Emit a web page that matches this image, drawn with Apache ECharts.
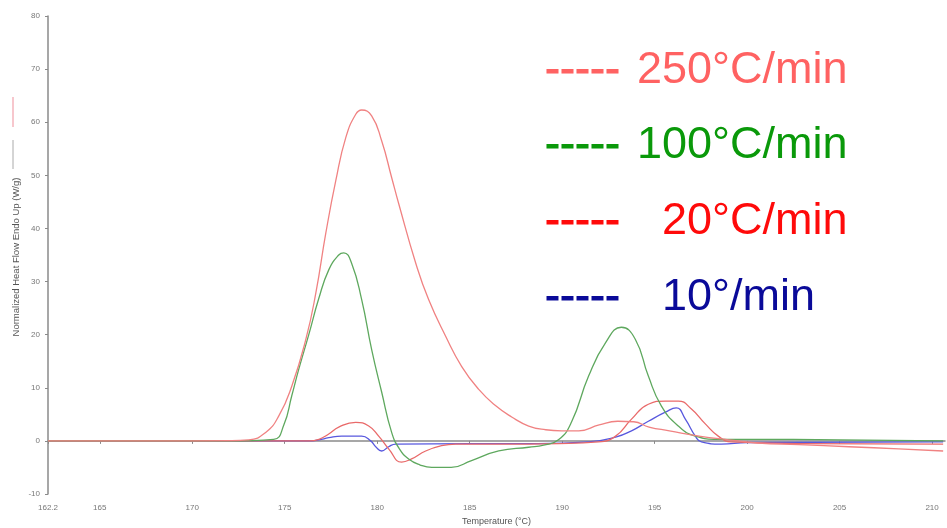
<!DOCTYPE html>
<html>
<head>
<meta charset="utf-8">
<script src="https://cdn.jsdelivr.net/npm/echarts@6/dist/echarts.min.js"></script>
<style>
html,body{margin:0;padding:0;background:#fff;}
#chart{width:947px;height:528px;}
</style>
</head>
<body>
<div id="chart"></div>
<script>
// Tick labels
const xTicks = [162.2, 165, 170, 175, 180, 185, 190, 195, 200, 205, 210];
const yTicks = [-10, 0, 10, 20, 30, 40, 50, 60, 70, 80];

// 250 °C/min
const t250 = [162.2, 168, 172, 173.05, 173.97, 174.68, 175.38, 176.14, 176.68, 177.22, 177.76, 178.3, 178.84, 179.16, 179.7, 180.24, 180.78, 181.16, 182.08, 182.78, 183.7, 184.57, 185.49, 186.41, 187.27, 188.19, 189.11, 189.97, 190.9, 192.0, 193.0, 193.87, 194.7, 195.8, 197.4, 199.0, 200.6, 202.8, 205.5, 208.2, 210.6];
const v250 = [0, 0, 0.05, 0.2, 1.6, 4.7, 10.3, 19.1, 27.8, 39.1, 49.0, 57.1, 61.5, 62.3, 61.2, 56.5, 49.6, 44.7, 33.5, 26.6, 19.7, 14.0, 9.7, 6.6, 4.5, 2.8, 2.1, 1.9, 1.9, 3.0, 3.7, 3.6, 2.6, 1.9, 0.9, 0.2, -0.4, -0.7, -1.1, -1.5, -1.9];

// 100 °C/min
const t100 = [162.2, 172, 174.4, 174.95, 175.38, 175.76, 176.3, 176.84, 177.38, 177.92, 178.19, 178.62, 179.16, 179.7, 180.24, 180.78, 181.2, 181.7, 182.3, 182.95, 184.0, 185.1, 186.57, 188.19, 189.0, 189.8, 190.5, 191.43, 192.35, 193.2, 193.96, 194.66, 195.36, 196.28, 197.2, 198.44, 200, 205, 210.6];
const v100 = [0, 0, 0.3, 3.0, 8.5, 13.5, 20.0, 26.8, 32.2, 35.0, 35.4, 33.4, 26.6, 17.2, 9.2, 1.6, -1.5, -3.4, -4.5, -5.0, -5.0, -3.7, -1.9, -1.2, -0.8, 0.2, 3.5, 12.2, 18.5, 21.4, 19.1, 12.2, 6.6, 2.8, 0.9, 0.3, 0.3, 0.2, 0.0];

// 20 °C/min
const t20 = [162.2, 176.3, 176.85, 177.38, 177.92, 178.84, 179.54, 180.08, 180.62, 181.32, 181.86, 182.62, 183.48, 184.24, 186.57, 189.8, 191.96, 192.89, 193.75, 194.66, 195.58, 196.28, 196.99, 197.74, 198.44, 199.15, 202.77, 210.6];
const v20 = [0, 0, 0.3, 1.3, 2.6, 3.5, 2.8, 0.9, -1.5, -4.0, -3.4, -1.9, -0.9, -0.6, -0.6, -0.5, -0.2, 0.9, 4.1, 6.9, 7.5, 7.5, 6.0, 3.2, 0.9, -0.2, -0.5, -0.6];

// 10 °C/min
const t10 = [162.2, 176.3, 176.85, 177.38, 178.08, 179.16, 179.65, 179.92, 180.24, 180.62, 181.0, 185, 188.7, 191.43, 192.89, 193.75, 194.66, 195.58, 196.17, 196.66, 197.2, 197.53, 198.6, 200, 210.6];
const v10 = [0, 0, 0.2, 0.6, 0.9, 0.9, 0, -1.1, -1.9, -1.1, -0.6, -0.5, -0.5, -0.2, 0.7, 1.9, 3.7, 5.4, 6.2, 4.1, 0.9, -0.2, -0.6, -0.3, -0.2];

const legendRows = [
  {dash: '-----', label: '250°C/min', color: '#ff6262'},
  {dash: '-----', label: '100°C/min', color: '#0a990a'},
  {dash: '-----', label: '20°C/min', color: '#ff0a0a'},
  {dash: '-----', label: '10°/min', color: '#0a0a99'}
];

function pairs(t, v) { return t.map((x, i) => [x, v[i]]); }

const chart = echarts.init(document.getElementById('chart'));

const rowY = [71, 146, 222, 298];
const labelX = [637, 637, 662, 662];
const FONT = '45px "Liberation Sans", Arial, sans-serif';
const graphics = [];
legendRows.forEach((r, i) => {
  graphics.push({type: 'text', x: 545, y: rowY[i], style: {text: r.dash, fill: r.color, stroke: r.color, lineWidth: 1, font: FONT, textAlign: 'left', textVerticalAlign: 'middle'}});
  graphics.push({type: 'text', x: labelX[i], y: rowY[i], style: {text: r.label, fill: r.color, font: FONT, textAlign: 'left', textVerticalAlign: 'middle'}});
});
graphics.push({type: 'text', x: 16, y: 257, rotation: Math.PI / 2, style: {text: 'Normalized Heat Flow Endo Up (W/g)', fill: '#555', font: '9.5px "Liberation Sans", Arial, sans-serif', textAlign: 'center', textVerticalAlign: 'middle'}});
graphics.push({type: 'line', shape: {x1: 13, y1: 97, x2: 13, y2: 127}, style: {stroke: '#f4b4bc', lineWidth: 1.5}});
graphics.push({type: 'line', shape: {x1: 13, y1: 140, x2: 13, y2: 169}, style: {stroke: '#aaaaaa', lineWidth: 1}});

function lineSeries(name, data, color) {
  return {
    name: name, type: 'line', data: data, smooth: 0.5, showSymbol: false,
    lineStyle: {color: color, width: 1.3}, z: 2
  };
}

chart.setOption({
  animation: false,
  backgroundColor: '#ffffff',
  grid: {left: 48, right: 2, top: 16, bottom: 34, containLabel: false, outerBoundsMode: 'none'},
  xAxis: {
    type: 'value', min: 162.2, max: 210.7,
    name: 'Temperature (°C)', nameLocation: 'middle', nameGap: 22,
    nameTextStyle: {color: '#555', fontSize: 9, fontFamily: 'Liberation Sans'},
    axisLine: {lineStyle: {color: '#8a8a8a', width: 1.5}},
    axisTick: {customValues: xTicks, length: 3, lineStyle: {color: '#8a8a8a'}},
    axisLabel: {customValues: xTicks, color: '#777', fontSize: 8, margin: 10, fontFamily: 'Liberation Sans'},
    splitLine: {show: false}
  },
  yAxis: {
    type: 'value', min: -10, max: 80, interval: 10,
    axisLine: {show: true, lineStyle: {color: '#8a8a8a', width: 1.5}},
    axisTick: {show: true, length: 3, lineStyle: {color: '#8a8a8a'}},
    axisLabel: {color: '#777', fontSize: 8, margin: 8, fontFamily: 'Liberation Sans', customValues: yTicks},
    splitLine: {show: false}
  },
  graphic: graphics,
  series: [
    lineSeries('10°/min', pairs(t10, v10), '#5858de'),
    lineSeries('20°C/min', pairs(t20, v20), '#e96a6a'),
    lineSeries('100°C/min', pairs(t100, v100), '#5ea85e'),
    lineSeries('250°C/min', pairs(t250, v250), '#f08282')
  ]
});
</script>
</body>
</html>
